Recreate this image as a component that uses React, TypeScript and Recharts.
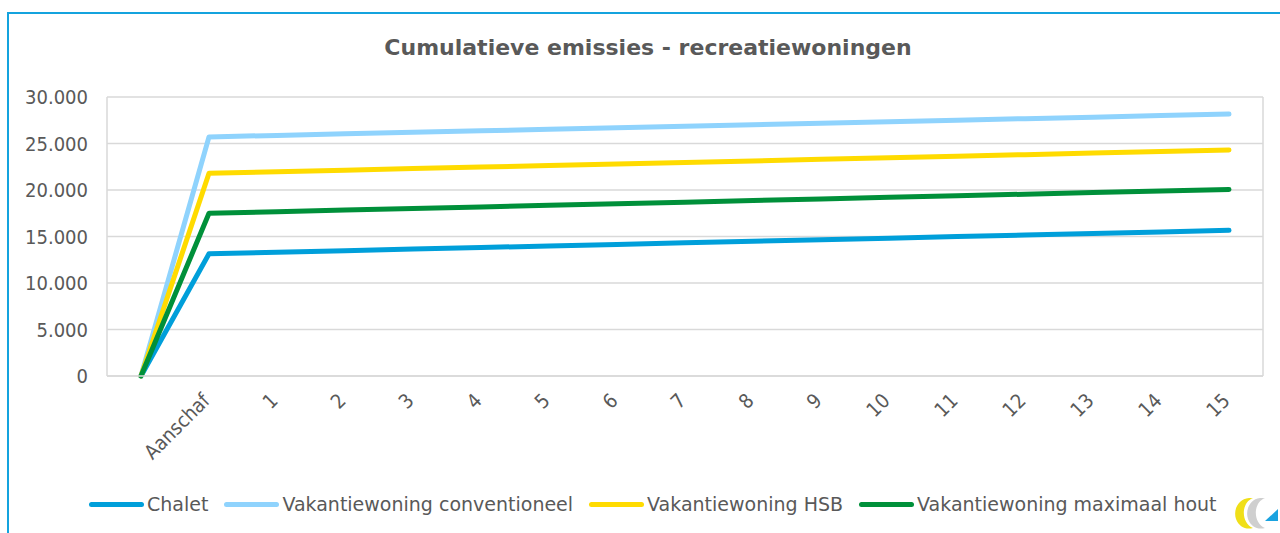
import React from "react";
import { LineChart, Line, XAxis, YAxis, CartesianGrid } from "recharts";

const categories = ["", "Aanschaf", "1", "2", "3", "4", "5", "6", "7", "8", "9", "10", "11", "12", "13", "14", "15"];

const chalet = [0, 13140, 13310, 13480, 13650, 13820, 13980, 14150, 14320, 14490, 14650, 14820, 14990, 15160, 15320, 15490, 15660];
const conventioneel = [0, 25710, 25870, 26040, 26200, 26360, 26530, 26690, 26850, 27020, 27180, 27340, 27510, 27670, 27830, 28000, 28160];
const hsb = [0, 21800, 21970, 22130, 22300, 22470, 22630, 22800, 22970, 23130, 23300, 23470, 23630, 23800, 23970, 24130, 24300];
const maximaalHout = [0, 17500, 17670, 17840, 18010, 18180, 18350, 18520, 18690, 18870, 19040, 19210, 19380, 19550, 19720, 19890, 20060];

const yTicks = [0, 5000, 10000, 15000, 20000, 25000, 30000];

const series = [
  { key: "chalet", name: "Chalet", color: "#009fda" },
  { key: "conventioneel", name: "Vakantiewoning conventioneel", color: "#8fd3fd" },
  { key: "hsb", name: "Vakantiewoning HSB", color: "#ffdb00" },
  { key: "hout", name: "Vakantiewoning maximaal hout", color: "#00903a" },
];

const FONT = "'DejaVu Sans Condensed', 'DejaVu Sans', sans-serif";
const FONT_WIDE = "'DejaVu Sans', sans-serif";
const TEXT = "#595959";
const GRID = "#d9d9d9";

const data = categories.map((c, i) => ({
  cat: c,
  chalet: chalet[i],
  conventioneel: conventioneel[i],
  hsb: hsb[i],
  hout: maximaalHout[i],
}));

const fmt = (v: number) => v.toLocaleString("nl-NL");

function XTick({ x, y, payload }: any) {
  return (
    <text
      x={x + 2}
      y={y + 18}
      transform={`rotate(-45 ${x + 2} ${y + 18})`}
      textAnchor="end"
      fill={TEXT}
      fontSize={20}
      fontFamily={FONT}
      fontStretch="condensed"
    >
      {payload.value}
    </text>
  );
}

function Logo() {
  return (
    <svg width={46} height={38} style={{ position: "absolute", left: 1233, top: 494 }}>
      <path d="M16 4 C5 5 0 16 3 25 C6 33 13 36 20 34 C13 31 10 23 11 16 C12 10 15 6 20 4 Z" fill="#f0df18" />
      <path d="M27 4 C17 5 12 16 15 25 C18 33 25 36 32 34 C25 31 22 23 23 16 C24 10 27 6 32 4 Z" fill="#cfcfcf" />
      <path d="M32 27 L45 27 L45 15 Z" fill="#1aa3e0" />
    </svg>
  );
}

export default function App() {
  return (
    <div
      style={{
        position: "absolute",
        left: 0,
        top: 0,
        width: 1280,
        height: 533,
        overflow: "hidden",
        background: "#fff",
        fontFamily: FONT_WIDE,
      }}
    >
      <div
        style={{
          position: "absolute",
          left: 7,
          top: 12,
          width: 1400,
          height: 700,
          borderTop: "2px solid #14a3de",
          borderLeft: "2px solid #14a3de",
        }}
      />
      <div
        style={{
          position: "absolute",
          left: 0,
          top: 35,
          width: 1296,
          textAlign: "center",
          fontSize: 22,
          fontWeight: "bold",
          color: TEXT,
        }}
      >
        Cumulatieve emissies - recreatiewoningen
      </div>
      <div style={{ position: "absolute", left: 0, top: 0 }}>
        <LineChart width={1280} height={533} data={data} margin={{ top: 97, right: 16, bottom: 97, left: 0 }}>
          <CartesianGrid vertical={false} stroke={GRID} strokeWidth={1.5} />
          <XAxis
            dataKey="cat"
            interval={0}
            tickLine={false}
            axisLine={{ stroke: GRID, strokeWidth: 1.5 }}
            height={60}
            padding={{ left: 34, right: 34 }}
            tick={<XTick />}
          />
          <YAxis
            domain={[0, 30000]}
            ticks={yTicks}
            tickFormatter={fmt}
            width={107}
            tickLine={false}
            axisLine={{ stroke: GRID, strokeWidth: 1.5 }}
            tickMargin={13}
            tick={{ fill: TEXT, fontSize: 20, fontFamily: FONT, fontStretch: "condensed" } as any}
          />
          <YAxis
            yAxisId="r"
            orientation="right"
            domain={[0, 30000]}
            ticks={yTicks}
            width={1}
            tick={false}
            tickLine={false}
            axisLine={{ stroke: GRID, strokeWidth: 1.5 }}
          />
          {series.map((s) => (
            <Line
              key={s.key}
              dataKey={s.key}
              name={s.name}
              stroke={s.color}
              strokeWidth={5}
              strokeLinecap="round"
              strokeLinejoin="round"
              dot={false}
              activeDot={false}
              type="linear"
              isAnimationActive={false}
            />
          ))}
        </LineChart>
      </div>
      <div
        style={{
          position: "absolute",
          left: 89,
          top: 493,
          display: "flex",
          alignItems: "center",
          fontSize: 19,
          color: TEXT,
          whiteSpace: "nowrap",
        }}
      >
        {series.map((s) => (
          <div key={s.key} style={{ display: "flex", alignItems: "center", marginRight: 16 }}>
            <div style={{ width: 55, height: 5, borderRadius: 3, background: s.color, marginRight: 3 }} />
            <span>{s.name}</span>
          </div>
        ))}
      </div>
      <Logo />
    </div>
  );
}
